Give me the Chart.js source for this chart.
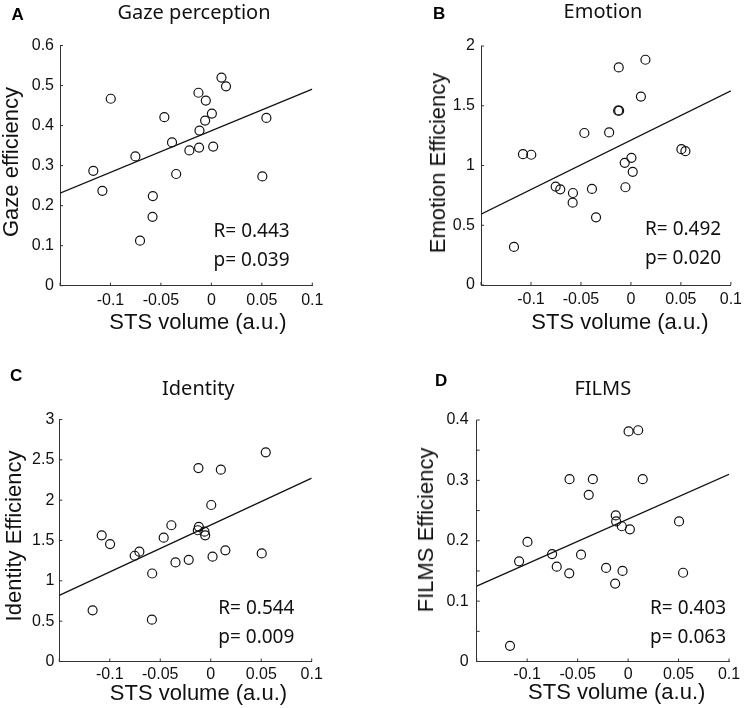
<!DOCTYPE html>
<html>
<head>
<meta charset="utf-8">
<script src="https://cdn.jsdelivr.net/npm/chart.js@4"></script>
<style>
  body { margin: 0; background: #fff; }
  #fig { position: relative; width: 747px; height: 708px; overflow: hidden; }
  #fig canvas { position: absolute; left: 0; top: 0; }
  .letra { position: absolute; font: bold 17px "Liberation Sans", Arial, sans-serif; line-height: 17px; color: #000; }
  .titulo { position: absolute; width: 200px; text-align: center; font: 20px "Noto Sans", sans-serif; line-height: 20px; color: #111; }
  .stats { position: absolute; font: 19px "Noto Sans", sans-serif; line-height: 29px; color: #111; white-space: pre; }
  .eixo { position: absolute; font: 22px "Liberation Sans", Arial, sans-serif; line-height: 22px; color: #111; white-space: nowrap; }
</style>
</head>
<body>
<div id="fig">
  <canvas id="chartA" width="747" height="708"></canvas>
  <canvas id="chartB" width="747" height="708"></canvas>
  <canvas id="chartC" width="747" height="708"></canvas>
  <canvas id="chartD" width="747" height="708"></canvas>
</div>
<script>
// STS volume per subject (same x for the four panels)
const stsVolume = [-0.117, -0.108, -0.0997, -0.0753, -0.0707, -0.058, -0.0583, -0.0466, -0.039, -0.0349, -0.0218,
                   -0.0122, -0.0118, -0.0128, -0.0062, -0.0055, 0.0005, 0.0018, 0.0100, 0.0145, 0.0505, 0.0545];

const gazeEff = [0.287, 0.237, 0.467, 0.323, 0.1125, 0.224, 0.172, 0.421, 0.358, 0.279, 0.338,
                 0.345, 0.3875, 0.482, 0.4125, 0.4625, 0.43, 0.3475, 0.52, 0.498, 0.273, 0.419];
const emotionEff = [0.319, 1.095, 1.090, 0.824, 0.801, 0.770, 0.689, 1.272, 0.804, 0.566, 1.277,
                    1.821, 1.459, 1.459, 1.022, 0.818, 1.064, 0.947, 1.577, 1.885, 1.137, 1.120];
const identityEff = [0.635, 1.564, 1.456, 1.311, 1.361, 1.091, 0.519, 1.535, 1.689, 1.228, 1.261,
                     2.398, 1.67, 1.627, 1.61, 1.564, 1.94, 1.299, 2.378, 1.378, 1.34, 2.593];
const filmsEff = [0.026, 0.166, 0.198, 0.178, 0.157, 0.302, 0.146, 0.177, 0.276, 0.302, 0.155,
                  0.242, 0.232, 0.129, 0.224, 0.150, 0.381, 0.219, 0.383, 0.302, 0.232, 0.147];

// regression lines (ends at x = -0.15 and 0.1)
const fitX = [-0.15, 0.1];
const gazeFit = [0.231, 0.491];
const emotionFit = [0.593, 1.624];
const identityFit = [0.82, 2.274];
const filmsFit = [0.1247, 0.310];

const letters = ['A', 'B', 'C', 'D'];
const titles = ['Gaze perception', 'Emotion', 'Identity', 'FILMS'];
const yTitles = ['Gaze efficiency', 'Emotion Efficiency', 'Identity Efficiency', 'FILMS Efficiency'];
const xTitle = 'STS volume (a.u.)';
const rValues = ['0.443', '0.492', '0.544', '0.403'];
const pValues = ['0.039', '0.020', '0.009', '0.063'];
const yMax = [0.6, 2, 3, 0.4];
const yStep = [0.1, 0.5, 0.5, 0.05];
const yLabelStep = [0.1, 0.5, 0.5, 0.1];

// layout of each panel on the page (axis titles are placed as in the figure, not centred)
const panels = [
  { id: 'chartA', y: gazeEff, fit: gazeFit, area: {l: 60, r: 312.3, t: 45.5, b: 285.7}, boxBottom: 333,
    tickPad: 6, xTickPad: 5, xTitle: [198, 322], yTitle: [11, 162], letter: [11.5, 5.5], title: [194, 2.1], stats: [213.5, 216] },
  { id: 'chartB', y: emotionEff, fit: emotionFit, area: {l: 481, r: 733.3, t: 46, b: 285}, boxBottom: 333,
    tickPad: 6, xTickPad: 5, xTitle: [620, 321.5], yTitle: [437.5, 162.5], letter: [433, 4.6], title: [603, 1.1], stats: [645, 213.7] },
  { id: 'chartC', y: identityEff, fit: identityFit, area: {l: 59.3, r: 311.7, t: 419.5, b: 661.5}, boxBottom: 703,
    tickPad: 5, xTickPad: 3, xTitle: [198.5, 692.5], yTitle: [14, 536], letter: [10, 366.8], title: [198.3, 377.7], stats: [218.3, 593] },
  { id: 'chartD', y: filmsEff, fit: filmsFit, area: {l: 476.7, r: 729, t: 420, b: 661.5}, boxBottom: 703,
    tickPad: 8, xTickPad: 3, xTitle: [616.7, 692], yTitle: [426, 529.5], letter: [435, 372.3], title: [602.8, 378.4], stats: [650, 593] }
];

Chart.defaults.font.family = '"Liberation Sans", Arial, sans-serif';
Chart.defaults.color = '#111';

// matlab style ticks, pointing into the axes
const inwardTicks = {
  id: 'inwardTicks',
  afterDraw(chart) {
    const {ctx, chartArea, scales} = chart;
    ctx.save();
    ctx.strokeStyle = '#333';
    ctx.lineWidth = 1;
    ctx.beginPath();
    scales.x.ticks.forEach(t => {
      const px = scales.x.getPixelForValue(t.value);
      ctx.moveTo(px, chartArea.bottom);
      ctx.lineTo(px, chartArea.bottom - 3);
    });
    scales.y.ticks.forEach(t => {
      const py = scales.y.getPixelForValue(t.value);
      ctx.moveTo(chartArea.left, py);
      ctx.lineTo(chartArea.left + 3, py);
    });
    ctx.stroke();
    ctx.restore();
  }
};

function addText(cls, text, left, top) {
  const el = document.createElement('div');
  el.className = cls;
  el.textContent = text;
  el.style.left = left + 'px';
  el.style.top = top + 'px';
  document.getElementById('fig').appendChild(el);
  return el;
}

// axis title centred on (cx, cy), rotated for the y axis
function addAxisTitle(text, cx, cy, vertical) {
  const el = addText('eixo', text, cx, cy);
  el.style.transform = 'translate(-50%, -50%)' + (vertical ? ' rotate(-90deg)' : '');
}

function drawPanel(p, i) {
  const boxLeft = p.yTitle[0] - 11;

  new Chart(document.getElementById(p.id), {
    type: 'scatter',
    data: {
      datasets: [{
        data: stsVolume.map((x, k) => ({x: x, y: p.y[k]})),
        pointRadius: 4.5,
        pointBorderWidth: 1.2,
        pointBorderColor: '#111',
        pointBackgroundColor: 'rgba(0,0,0,0)'
      }, {
        type: 'line',
        data: fitX.map((x, k) => ({x: x, y: p.fit[k]})),
        borderColor: '#111',
        borderWidth: 1.3,
        pointRadius: 0,
        fill: false
      }]
    },
    options: {
      responsive: false,
      animation: false,
      layout: {
        padding: {left: boxLeft, right: 747 - p.area.r, top: p.area.t, bottom: 708 - p.boxBottom}
      },
      plugins: {legend: {display: false}, tooltip: {enabled: false}},
      scales: {
        x: {
          type: 'linear',
          min: -0.15,
          max: 0.1,
          grid: {display: false, drawTicks: false},
          border: {display: true, color: '#333', width: 1},
          ticks: {
            stepSize: 0.05,
            autoSkip: false,
            maxRotation: 0,
            padding: p.xTickPad,
            font: {size: 16},
            callback: v => (v < -0.14 ? '' : String(+v.toFixed(3)))
          },
          afterFit: s => { s.height = p.boxBottom - p.area.b; }
        },
        y: {
          type: 'linear',
          min: 0,
          max: yMax[i],
          grid: {display: false, drawTicks: false},
          border: {display: true, color: '#333', width: 1},
          ticks: {
            stepSize: yStep[i],
            autoSkip: false,
            padding: p.tickPad,
            font: {size: 16},
            callback: v => {
              const n = v / yLabelStep[i];
              return Math.abs(n - Math.round(n)) < 1e-6 ? String(+v.toFixed(3)) : '';
            }
          },
          afterFit: s => { s.width = p.area.l - boxLeft; }
        }
      }
    },
    plugins: [inwardTicks]
  });

  addText('letra', letters[i], p.letter[0], p.letter[1]);
  addText('titulo', titles[i], p.title[0] - 100, p.title[1]);
  addText('stats', 'R= ' + rValues[i] + '\np= ' + pValues[i], p.stats[0], p.stats[1]);
  addAxisTitle(xTitle, p.xTitle[0], p.xTitle[1], false);
  addAxisTitle(yTitles[i], p.yTitle[0], p.yTitle[1], true);
}

panels.forEach(drawPanel);
</script>
</body>
</html>
